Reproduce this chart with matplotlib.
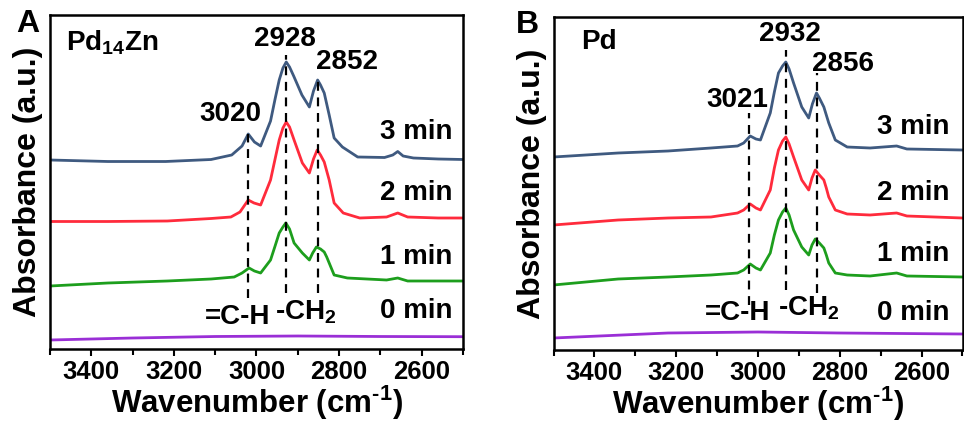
import matplotlib
matplotlib.use("Agg")
import matplotlib.pyplot as plt

plt.rcParams['font.family'] = ['Liberation Sans', 'DejaVu Sans']
plt.rcParams['font.weight'] = 'bold'
plt.rcParams['mathtext.default'] = 'regular'
plt.rcParams['mathtext.fontset'] = 'custom'
plt.rcParams['mathtext.rm'] = 'Liberation Sans:bold'

# panel A : Pd14Zn
wn_a_3 = [3500, 3360, 3220, 3110, 3060, 3035, 3020, 3005, 2990, 2966, 2955, 2945, 2936, 2928, 2920, 2910, 2890,
          2872, 2862, 2852, 2845, 2836, 2830, 2824, 2812, 2792, 2755, 2690, 2670, 2658, 2645, 2620, 2560, 2500]
abs_a_3 = [1.89, 1.875, 1.875, 1.895, 1.94, 2.03, 2.15, 2.07, 2.03, 2.28, 2.50, 2.69, 2.81, 2.87, 2.82, 2.73, 2.54,
           2.42, 2.58, 2.69, 2.64, 2.56, 2.45, 2.34, 2.11, 2.02, 1.92, 1.915, 1.94, 1.975, 1.93, 1.91, 1.90, 1.895]

wn_a_2 = [3500, 3360, 3216, 3110, 3062, 3040, 3020, 3006, 2990, 2966, 2955, 2945, 2936, 2928, 2920, 2909,
          2889, 2872, 2862, 2853, 2845, 2836, 2830, 2824, 2812, 2790, 2750, 2685, 2658, 2634, 2560, 2500]
abs_a_2 = [1.275, 1.275, 1.28, 1.305, 1.32, 1.37, 1.49, 1.46, 1.44, 1.69, 1.90, 2.09, 2.21, 2.27, 2.22, 2.09,
           1.86, 1.76, 1.90, 1.99, 1.94, 1.87, 1.78, 1.69, 1.46, 1.36, 1.31, 1.32, 1.36, 1.32, 1.31, 1.31]

wn_a_1 = [3500, 3360, 3216, 3110, 3054, 3035, 3018, 3005, 2990, 2966, 2955, 2945, 2936, 2929, 2920, 2909,
          2889, 2872, 2864, 2855, 2845, 2836, 2830, 2824, 2812, 2780, 2685, 2658, 2634, 2500]
abs_a_1 = [0.63, 0.66, 0.68, 0.70, 0.72, 0.76, 0.81, 0.78, 0.76, 0.89, 1.03, 1.16, 1.22, 1.26, 1.20, 1.06,
           0.96, 0.89, 0.96, 1.02, 1.00, 0.97, 0.92, 0.86, 0.74, 0.71, 0.69, 0.71, 0.68, 0.68]

wn_a_0 = [3500, 3300, 3100, 2900, 2700, 2500]
abs_a_0 = [0.09, 0.11, 0.125, 0.13, 0.125, 0.123]

# panel B : Pd
wn_b_3 = [3500, 3342, 3220, 3115, 3050, 3035, 3019, 3005, 2994, 2970, 2960, 2950, 2940, 2932, 2924,
          2913, 2893, 2876, 2867, 2857, 2850, 2839, 2833, 2827, 2811, 2782, 2726, 2661, 2636, 2500]
abs_b_3 = [1.93, 1.97, 1.99, 2.02, 2.04, 2.07, 2.14, 2.11, 2.10, 2.37, 2.58, 2.77, 2.84, 2.88, 2.81,
           2.67, 2.43, 2.32, 2.46, 2.57, 2.52, 2.43, 2.35, 2.27, 2.10, 2.03, 2.02, 2.04, 2.01, 2.00]

wn_b_2 = [3500, 3342, 3220, 3115, 3050, 3035, 3019, 3005, 2994, 2970, 2960, 2950, 2940, 2932, 2924,
          2913, 2893, 2876, 2868, 2860, 2850, 2839, 2833, 2827, 2811, 2782, 2726, 2661, 2636, 2500]
abs_b_2 = [1.25, 1.30, 1.32, 1.33, 1.37, 1.40, 1.46, 1.42, 1.40, 1.60, 1.82, 2.00, 2.09, 2.13, 2.06,
           1.93, 1.70, 1.60, 1.72, 1.80, 1.75, 1.70, 1.62, 1.53, 1.40, 1.36, 1.35, 1.37, 1.34, 1.32]

wn_b_1 = wn_b_2
abs_b_1 = [0.65, 0.71, 0.73, 0.75, 0.77, 0.80, 0.86, 0.82, 0.80, 0.97, 1.15, 1.30, 1.38, 1.42, 1.35,
           1.20, 1.03, 0.95, 1.05, 1.11, 1.07, 1.02, 0.95, 0.87, 0.77, 0.75, 0.74, 0.77, 0.74, 0.73]

wn_b_0 = [3500, 3220, 3000, 2800, 2500]
abs_b_0 = [0.12, 0.17, 0.18, 0.17, 0.16]

times = ['0 min', '1 min', '2 min', '3 min']
colors = ['#9a2fd6', '#1d9e1d', '#ff2b3c', '#3f5a80']

peaks_a = [3020, 2928, 2852]
peaks_b = [3021, 2932, 2856]

fig = plt.figure(figsize=(9.64, 4.23), dpi=100)
W, H = 964, 423
ax1 = fig.add_axes([50 / W, 1 - 349 / H, 413 / W, 334 / H])
ax2 = fig.add_axes([553.5 / W, 1 - 350 / H, 409 / W, 332.5 / H])


def setup(ax, ymax):
    ax.set_xlim(3500, 2500)
    ax.set_ylim(0, ymax)
    ax.set_xticks([3400, 3200, 3000, 2800, 2600])
    ax.set_xticks([3500, 3300, 3100, 2900, 2700, 2500], minor=True)
    ax.set_yticks([])
    ax.tick_params(axis='x', which='major', direction='out', length=5, width=1.5, labelsize=18.5, pad=3)
    ax.tick_params(axis='x', which='minor', direction='out', length=4, width=1.5)
    for s in ax.spines.values():
        s.set_linewidth(1.8)
    ax.set_xlabel(r'Wavenumber (cm$^{\text{-1}}$)', fontsize=22.5, fontweight='bold', labelpad=0)
    ax.set_ylabel('Absorbance (a.u.)', fontsize=23, fontweight='bold', labelpad=5)


setup(ax1, 3.34)
setup(ax2, 3.325)

curves_a = [(wn_a_0, abs_a_0), (wn_a_1, abs_a_1), (wn_a_2, abs_a_2), (wn_a_3, abs_a_3)]
curves_b = [(wn_b_0, abs_b_0), (wn_b_1, abs_b_1), (wn_b_2, abs_b_2), (wn_b_3, abs_b_3)]
for (x, y), c in zip(curves_a, colors):
    ax1.plot(x, y, color=c, lw=2.0, solid_joinstyle='round')
for (x, y), c in zip(curves_b, colors):
    ax2.plot(x, y, color=c, lw=2.0, solid_joinstyle='round')

# dashed peak markers
dash_a = [(2.15, 0.51), (2.94, 0.56), (2.70, 0.56)]
dash_b = [(2.37, 0.45), (3.00, 0.60), (2.77, 0.57)]
for p, (y1, y0) in zip(peaks_a, dash_a):
    ax1.plot([p, p], [y0, y1], color='black', lw=1.6, ls=(0, (4, 3)))
for p, (y1, y0) in zip(peaks_b, dash_b):
    ax2.plot([p, p], [y0, y1], color='black', lw=1.6, ls=(0, (4, 3)))

# peak labels
ax1.text(3063, 2.35, str(peaks_a[0]), ha='center', va='center', fontsize=20)
ax1.text(2931, 3.10, str(peaks_a[1]), ha='center', va='center', fontsize=20)
ax1.text(2780, 2.87, str(peaks_a[2]), ha='center', va='center', fontsize=20)
ax2.text(3051, 2.50, str(peaks_b[0]), ha='center', va='center', fontsize=20)
ax2.text(2923, 3.16, str(peaks_b[1]), ha='center', va='center', fontsize=20)
ax2.text(2791, 2.86, str(peaks_b[2]), ha='center', va='center', fontsize=20)

ax1.text(3045, 0.32, '=C-H', ha='center', va='center', fontsize=20)
ax1.text(2955, 0.37, '-CH$_2$', ha='left', va='center', fontsize=20)
ax2.text(3049, 0.37, '=C-H', ha='center', va='center', fontsize=20)
ax2.text(2952, 0.42, '-CH$_2$', ha='left', va='center', fontsize=20)

ya = [0.375, 0.915, 1.565, 2.17]
yb = [0.375, 0.96, 1.575, 2.225]
for t, y in zip(times, ya):
    ax1.text(2525, y, t, ha='right', va='center', fontsize=20)
for t, y in zip(times, yb):
    ax2.text(2531, y, t, ha='right', va='center', fontsize=20)

ax1.text(3462, 3.06, 'Pd$_{14}$Zn', ha='left', va='center', fontsize=20)
ax2.text(3432, 3.08, 'Pd', ha='left', va='center', fontsize=20)

fig.text(28 / W, 1 - 24 / H, 'A', ha='center', va='center', fontsize=23, fontweight='bold')
fig.text(527.5 / W, 1 - 25 / H, 'B', ha='center', va='center', fontsize=23, fontweight='bold')

fig.savefig('out.png', dpi=100)
